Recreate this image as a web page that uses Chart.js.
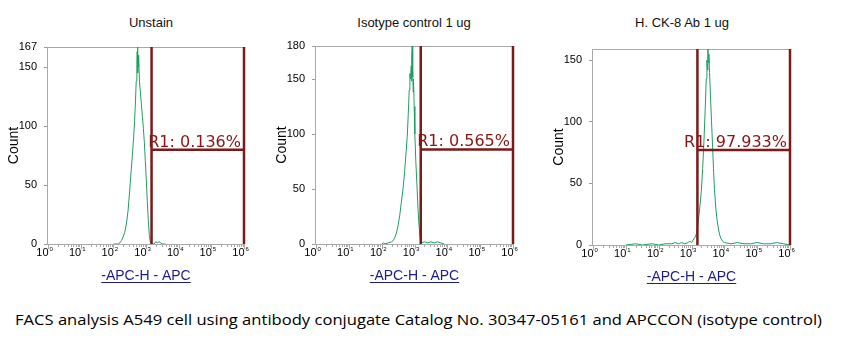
<!DOCTYPE html>
<html>
<head>
<meta charset="utf-8">
<script src="https://cdn.jsdelivr.net/npm/chart.js@4/dist/chart.umd.min.js"></script>
<style>
	body {
		margin: 0;
		background: #fff;
		width: 863px;
		height: 354px;
		overflow: hidden;
		position: relative;
		font-family: 'Liberation Sans', Arial, sans-serif;
	}
	canvas {
		position: absolute;
		top: 0;
	}
	.ttl {
		position: absolute;
		top: 15px;
		font-size: 13px;
		color: #111;
		white-space: nowrap;
		transform: translateX(-50%);
	}
	#caption {
		position: absolute;
		left: 15px;
		top: 309px;
		font-family: 'Open Sans', sans-serif;
		font-size: 15px;
		color: #000;
		white-space: nowrap;
		transform-origin: 0 0;
	}
</style>
</head>
<body>
<div class="ttl" id="t0"></div>
<div class="ttl" id="t1"></div>
<div class="ttl" id="t2"></div>
<canvas id="c0"></canvas>
<canvas id="c1"></canvas>
<canvas id="c2"></canvas>
<div id="caption">FACS analysis A549 cell using antibody conjugate Catalog No. 30347-05161 and APCCON (isotype control)</div>

<script>
// Panel titles and axis text
const titles = ['Unstain', 'Isotype control 1 ug', 'H. CK-8 Ab 1 ug'];
const xTitle = '-APC-H - APC';
const yTitle = 'Count';
const decades = [0, 1, 2, 3, 4, 5, 6];

// Histograms: x is log10 of APC intensity, y is count
const unstainX = [2.0, 2.15, 2.2, 2.25, 2.3, 2.35, 2.4, 2.45, 2.5, 2.54, 2.58, 2.62, 2.65, 2.68, 2.7, 2.72, 2.73, 2.74, 2.75, 2.76, 2.77, 2.78, 2.8, 2.83, 2.86, 2.89, 2.92, 2.95, 2.98, 3.01, 3.04, 3.07, 3.1, 3.13, 3.16, 3.25, 3.3, 3.35, 3.4, 3.45, 3.5, 3.6];
const unstainY = [0, 0, 1, 3, 6, 10, 17, 28, 45, 60, 74, 90, 104, 122, 138, 152, 163, 167, 145, 160, 150, 158, 138, 128, 118, 108, 98, 86, 70, 54, 36, 20, 8, 2, 0, 0, 2, 1, 2, 1, 0, 0];

const isotypeX = [2.0, 2.05, 2.1, 2.2, 2.3, 2.35, 2.4, 2.45, 2.5, 2.55, 2.6, 2.65, 2.7, 2.74, 2.78, 2.81, 2.84, 2.86, 2.88, 2.9, 2.91, 2.92, 2.93, 2.94, 2.95, 2.96, 2.97, 2.99, 3.01, 3.04, 3.08, 3.11, 3.14, 3.17, 3.2, 3.3, 3.4, 3.5, 3.6, 3.7, 3.8, 3.9];
const isotypeY = [0, 1, 0, 1, 2, 3, 6, 10, 17, 26, 38, 50, 66, 82, 98, 118, 140, 155, 150, 162, 148, 170, 180, 152, 160, 138, 150, 125, 100, 75, 50, 30, 16, 6, 1, 2, 1, 2, 1, 2, 1, 0];

const ck8X = [1.0, 1.3, 1.5, 1.8, 2.0, 2.2, 2.4, 2.5, 2.6, 2.7, 2.8, 2.9, 2.95, 3.0, 3.05, 3.1, 3.15, 3.2, 3.25, 3.3, 3.34, 3.38, 3.42, 3.45, 3.47, 3.49, 3.5, 3.51, 3.53, 3.55, 3.58, 3.61, 3.64, 3.67, 3.7, 3.74, 3.78, 3.82, 3.86, 3.9, 3.95, 4.0, 4.2, 4.4, 4.6, 4.8, 5.0, 5.2, 5.4, 5.6, 5.8, 6.0];
const ck8Y = [0, 1, 0, 1, 0, 1, 1, 2, 1, 2, 1, 2, 3, 2, 4, 6, 9, 18, 30, 44, 62, 85, 112, 135, 150, 142, 159, 148, 155, 140, 120, 100, 82, 62, 45, 30, 20, 13, 8, 5, 3, 2, 1, 2, 1, 1, 2, 1, 1, 2, 1, 0];

// Axis limits and R1 gate per panel
const yMaxes = [167, 180, 159];
const yTickSets = [[0, 50, 100, 150, 167], [0, 50, 100, 150, 180], [0, 50, 100, 150]];
const gateLows = [3.17, 3.19, 3.18];
const gateHighs = [6, 6, 6];
const gateLevels = [80, 86, 77];
const gateLabels = ['R1: 0.136%', 'R1: 0.565%', 'R1: 97.933%'];

// Page layout of each plot area (left, right, top, bottom) and title centre
const boxes = [
	{left: 48, right: 244, top: 47, bottom: 244, titleX: 151},
	{left: 316, right: 513, top: 46, bottom: 244, titleX: 414},
	{left: 593, right: 790, top: 49, bottom: 245, titleX: 682},
];
const series = [
	[unstainX, unstainY],
	[isotypeX, isotypeY],
	[ck8X, ck8Y],
];

const Y_AXIS_W = 48;
const CANVAS_H = 290;

// Frame, log ticks and x title drawn from the x scale
const framePlugin = {
	id: 'frame',
	beforeDatasetsDraw(chart) {
		const {ctx, chartArea: a, scales: {x}} = chart;
		ctx.save();
		ctx.strokeStyle = '#a9a9a9';
		ctx.lineWidth = 1;
		ctx.strokeRect(a.left - 0.5, a.top + 0.5, a.right - a.left + 1, a.bottom - a.top);

		// minor and major ticks under the axis
		ctx.beginPath();
		decades.forEach((d) => {
			const px = Math.round(x.getPixelForValue(d)) + 0.5;
			ctx.moveTo(px, a.bottom);
			ctx.lineTo(px, a.bottom + 5);
			if (d < 6) {
				for (let k = 2; k < 10; k++) {
					const mx = Math.round(x.getPixelForValue(d + Math.log10(k))) + 0.5;
					ctx.moveTo(mx, a.bottom);
					ctx.lineTo(mx, a.bottom + 3);
				}
			}
		});
		ctx.stroke();

		// 10^n labels
		ctx.fillStyle = '#000';
		decades.forEach((d) => {
			const px = x.getPixelForValue(d);
			ctx.font = '11px "Liberation Sans", Arial';
			ctx.textAlign = 'right';
			ctx.textBaseline = 'alphabetic';
			ctx.fillText('10', px + 0.5, a.bottom + 12);
			ctx.font = '6px "Liberation Sans", Arial';
			ctx.textAlign = 'left';
			ctx.fillText(String(d), px + 1.5, a.bottom + 7);
		});

		// underlined x title
		ctx.font = '14px "Liberation Sans", Arial';
		ctx.fillStyle = '#1d1d8a';
		ctx.textAlign = 'center';
		const cx = (a.left + a.right) / 2;
		const ty = a.bottom + 36;
		ctx.fillText(xTitle, cx, ty);
		const tw = ctx.measureText(xTitle).width;
		ctx.strokeStyle = '#1d1d8a';
		ctx.beginPath();
		ctx.moveTo(cx - tw / 2, ty + 2.5);
		ctx.lineTo(cx + tw / 2, ty + 2.5);
		ctx.stroke();
		ctx.restore();
	},
};

// R1 gate bracket and its label
const gatePlugin = {
	id: 'gate',
	afterDatasetsDraw(chart, args, opts) {
		const {ctx, scales: {x, y}} = chart;
		const lo = x.getPixelForValue(opts.low);
		const hi = x.getPixelForValue(opts.high);
		const top = y.getPixelForValue(opts.yMax);
		const bot = y.getPixelForValue(0);
		const lev = y.getPixelForValue(opts.level);
		ctx.save();
		ctx.strokeStyle = '#7c1a1a';
		ctx.lineWidth = 2.5;
		ctx.beginPath();
		ctx.moveTo(lo, top);
		ctx.lineTo(lo, bot);
		ctx.moveTo(hi, top);
		ctx.lineTo(hi, bot);
		ctx.moveTo(lo, lev);
		ctx.lineTo(hi, lev);
		ctx.stroke();
		ctx.font = '16px "DejaVu Sans", Verdana, sans-serif';
		ctx.fillStyle = '#8a1414';
		ctx.textAlign = 'right';
		ctx.textBaseline = 'alphabetic';
		ctx.fillText(opts.text, hi - 3, lev - 3);
		ctx.restore();
	},
};

const buildChart = (i) => {
	const b = boxes[i];
	const canvas = document.getElementById('c' + i);
	const canvasLeft = b.left - Y_AXIS_W;
	const canvasW = b.right - canvasLeft + 10;
	canvas.width = canvasW;
	canvas.height = CANVAS_H;
	canvas.style.left = canvasLeft + 'px';
	canvas.style.width = canvasW + 'px';
	canvas.style.height = CANVAS_H + 'px';

	const title = document.getElementById('t' + i);
	title.textContent = titles[i];
	title.style.left = b.titleX + 'px';

	const [xs, ys] = series[i];
	const yTicks = yTickSets[i];

	return new Chart(canvas, {
		type: 'line',
		data: {
			datasets: [
				{
					data: xs.map((v, k) => ({x: v, y: ys[k]})),
					borderColor: '#1f9e62',
					borderWidth: 1,
					pointRadius: 0,
					tension: 0,
					fill: false,
				},
			],
		},
		options: {
			responsive: false,
			devicePixelRatio: 1,
			animation: false,
			layout: {
				padding: {
					left: 0,
					top: b.top,
					right: canvasW - (b.right - canvasLeft),
					bottom: CANVAS_H - b.bottom,
				},
			},
			plugins: {
				legend: {display: false},
				tooltip: {enabled: false},
				gate: {
					low: gateLows[i],
					high: gateHighs[i],
					level: gateLevels[i],
					yMax: yMaxes[i],
					text: gateLabels[i],
				},
			},
			scales: {
				x: {
					type: 'linear',
					min: 0,
					max: 6,
					display: false,
				},
				y: {
					type: 'linear',
					min: 0,
					max: yMaxes[i],
					afterBuildTicks: (s) => {
						s.ticks = yTicks.map((v) => ({value: v}));
					},
					afterFit: (s) => {
						s.width = Y_AXIS_W;
					},
					border: {display: false},
					grid: {drawOnChartArea: false, tickLength: 4, color: '#9a9a9a'},
					ticks: {
						autoSkip: false,
						padding: 7,
						color: '#000',
						font: {size: 11, family: 'Liberation Sans'},
					},
					title: {
						display: true,
						text: yTitle,
						color: '#000',
						font: {size: 14, family: 'Liberation Sans'},
						padding: {top: 6, bottom: 0},
					},
				},
			},
		},
		plugins: [framePlugin, gatePlugin],
	});
};

const charts = [0, 1, 2].map(buildChart);

// stretch caption to the width it has in the picture
const caption = document.getElementById('caption');
const capW = caption.getBoundingClientRect().width;
caption.style.transform = `scaleX(${807 / capW})`;
</script>
</body>
</html>
